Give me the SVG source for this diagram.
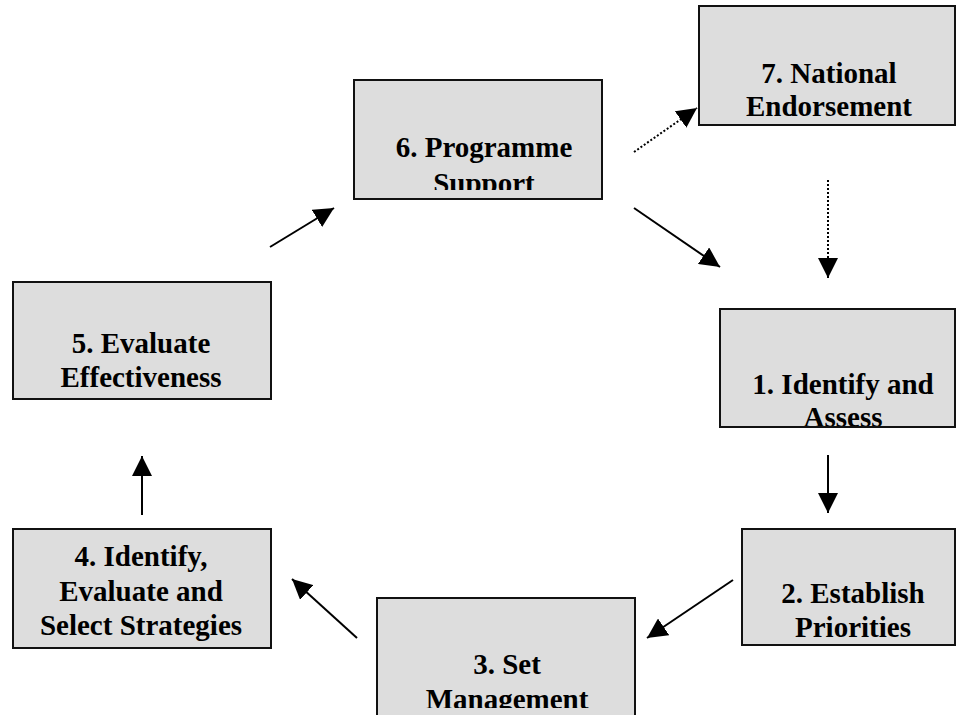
<svg xmlns="http://www.w3.org/2000/svg" width="956" height="715" viewBox="0 0 956 715">
<style>
.box{fill:#dddddd;stroke:#111;stroke-width:2}
.t{font-family:"Liberation Serif","Times New Roman",serif;font-weight:bold;font-size:29px;fill:#000;text-anchor:middle}
.c{stroke:#000;stroke-width:2;fill:none}
.d{stroke:#000;stroke-width:2;fill:none;stroke-dasharray:2 2}
</style>
<defs>
<marker id="ah" viewBox="0 0 20 20" refX="20" refY="10" markerWidth="20" markerHeight="20" markerUnits="userSpaceOnUse" orient="auto">
<path d="M0,0 L20,10 L0,20 z" fill="#000"/>
</marker>
<clipPath id="c6"><rect x="354" y="80" width="248" height="110"/></clipPath>
<clipPath id="c1"><rect x="720" y="309" width="236" height="117"/></clipPath>
<clipPath id="c2"><rect x="742" y="529" width="214" height="110"/></clipPath>
<clipPath id="c3"><rect x="377" y="598" width="258" height="110"/></clipPath>
</defs>
<rect width="956" height="715" fill="#fff"/>
<g id="connectors">
<path class="d" d="M634,152 L697,108" marker-end="url(#ah)"/>
<path class="d" d="M828,180 L828,278" marker-end="url(#ah)"/>
<path class="c" d="M634,208 L720,267" marker-end="url(#ah)"/>
<path class="c" d="M828,455 L828,513" marker-end="url(#ah)"/>
<path class="c" d="M733,580 L647,638" marker-end="url(#ah)"/>
<path class="c" d="M357,638 L292,579" marker-end="url(#ah)"/>
<path class="c" d="M142,515 L142,456" marker-end="url(#ah)"/>
<path class="c" d="M270,247 L334,208" marker-end="url(#ah)"/>
</g>
<g id="node6">
<rect class="box" x="354" y="80" width="248" height="119"/>
<g clip-path="url(#c6)"><text class="t" x="484" y="157">6. Programme</text><text class="t" x="484" y="193">Support</text></g>
</g>
<g id="node7">
<rect class="box" x="699" y="6" width="256" height="119"/>
<text class="t" x="829" y="83">7. National</text><text class="t" x="829" y="116">Endorsement</text>
</g>
<g id="node1">
<rect class="box" x="720" y="309" width="235" height="118"/>
<g clip-path="url(#c1)"><text class="t" x="843" y="394">1. Identify and</text><text class="t" x="843" y="427">Assess</text></g>
</g>
<g id="node2">
<rect class="box" x="742" y="529" width="213" height="116"/>
<g clip-path="url(#c2)"><text class="t" x="853" y="603">2. Establish</text><text class="t" x="853" y="637">Priorities</text></g>
</g>
<g id="node3">
<rect class="box" x="377" y="598" width="258" height="130"/>
<g clip-path="url(#c3)"><text class="t" x="507" y="674">3. Set</text><text class="t" x="507" y="709">Management</text></g>
</g>
<g id="node4">
<rect class="box" x="13" y="529" width="258" height="119"/>
<text class="t" x="141" y="566">4. Identify,</text><text class="t" x="141" y="601">Evaluate and</text><text class="t" x="141" y="635">Select Strategies</text>
</g>
<g id="node5">
<rect class="box" x="13" y="282" width="258" height="117"/>
<text class="t" x="141" y="353">5. Evaluate</text><text class="t" x="141" y="387">Effectiveness</text>
</g>
</svg>
